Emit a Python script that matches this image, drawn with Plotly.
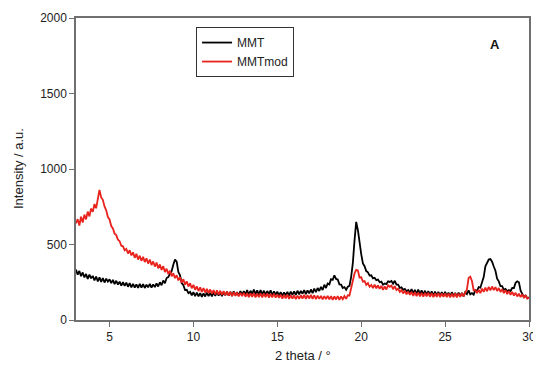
import plotly.graph_objects as go

# 2 theta values (degrees), 0.1 step from 3.0 to 30.0
two_theta = [round(3.0 + 0.1 * i, 1) for i in range(271)]

mmt = [
    335, 300, 325, 290, 315, 282, 305, 272, 300, 276,
    292, 262, 288, 256, 282, 252, 278, 248, 274, 254,
    270, 244, 266, 238, 260, 234, 254, 228, 250, 226,
    248, 220, 244, 216, 240, 214, 236, 212, 240, 214,
    238, 212, 234, 216, 240, 214, 236, 218, 242, 222,
    250, 230, 262, 244, 278, 284, 306, 324, 366, 400,
    386, 318, 296, 244, 230, 198, 200, 178, 186, 164,
    184, 158, 182, 156, 178, 154, 176, 156, 182, 158,
    180, 156, 184, 160, 186, 162, 182, 158, 184, 164,
    188, 162, 186, 160, 190, 164, 184, 162, 192, 166,
    192, 168, 198, 166, 194, 172, 202, 170, 196, 168,
    198, 170, 194, 166, 192, 170, 196, 164, 190, 168,
    188, 162, 184, 160, 182, 164, 186, 162, 188, 166,
    190, 166, 194, 170, 192, 174, 198, 172, 196, 176,
    202, 178, 208, 184, 212, 192, 220, 198, 234, 212,
    242, 236, 270, 266, 296, 272, 268, 236, 234, 212,
    218, 200, 220, 226, 286, 376, 526, 650, 596, 504,
    436, 374, 356, 324, 316, 294, 296, 276, 280, 264,
    268, 250, 254, 234, 242, 238, 256, 252, 258, 240,
    260, 234, 234, 212, 216, 200, 206, 190, 198, 182,
    204, 176, 200, 172, 202, 170, 196, 168, 194, 166,
    192, 164, 190, 160, 188, 162, 186, 158, 184, 160,
    186, 158, 182, 156, 184, 160, 180, 154, 182, 158,
    180, 156, 184, 172, 196, 170, 178, 168, 198, 192,
    218, 214, 248, 284, 356, 374, 400, 404, 386, 354,
    326, 274, 256, 224, 224, 200, 206, 190, 198, 192,
    212, 212, 246, 256, 250, 194, 176, 152, 162, 144,
    150,
]

mmt_mod = [
    640, 668, 626, 684, 646, 698, 666, 718, 686, 738,
    716, 768, 740, 808, 862, 812, 796, 752, 726, 682,
    666, 622, 606, 572, 562, 532, 522, 492, 488, 462,
    470, 440, 462, 428, 448, 412, 438, 400, 426, 392,
    418, 384, 408, 374, 400, 364, 388, 354, 380, 342,
    368, 332, 356, 318, 340, 304, 326, 290, 310, 277,
    296, 262, 283, 247, 270, 234, 256, 222, 244, 210,
    233, 200, 223, 192, 216, 186, 212, 182, 206, 178,
    202, 174, 198, 170, 196, 168, 194, 166, 192, 164,
    188, 162, 186, 158, 184, 160, 182, 156, 180, 158,
    180, 154, 178, 152, 176, 154, 178, 150, 174, 152,
    176, 150, 174, 152, 176, 148, 172, 150, 174, 148,
    170, 146, 168, 142, 166, 144, 168, 140, 164, 142,
    164, 138, 162, 140, 164, 142, 166, 140, 164, 142,
    166, 140, 164, 138, 162, 140, 160, 136, 158, 138,
    160, 136, 158, 134, 156, 136, 158, 134, 156, 138,
    158, 140, 164, 162, 208, 242, 308, 332, 328, 282,
    283, 254, 258, 232, 244, 220, 232, 212, 234, 210,
    230, 206, 226, 200, 222, 202, 230, 220, 228, 204,
    224, 198, 208, 186, 198, 176, 194, 170, 188, 166,
    186, 160, 184, 158, 182, 156, 180, 154, 180, 156,
    180, 154, 178, 152, 176, 154, 178, 152, 176, 154,
    176, 152, 174, 150, 174, 152, 176, 150, 174, 154,
    178, 156, 186, 202, 278, 287, 258, 197, 198, 178,
    200, 178, 208, 186, 214, 190, 220, 196, 222, 198,
    218, 192, 212, 186, 204, 178, 198, 172, 192, 166,
    186, 162, 180, 156, 174, 152, 170, 146, 164, 142,
    148,
]

x_ticks = [5, 10, 15, 20, 25, 30]
y_ticks = [0, 500, 1000, 1500, 2000]

font_family = "Liberation Sans, Arial, sans-serif"
axis_col = "#707070"

fig = go.Figure()
fig.add_trace(go.Scatter(x=two_theta, y=mmt, mode="lines", name="MMT",
                         line=dict(color="#000000", width=1.8)))
fig.add_trace(go.Scatter(x=two_theta, y=mmt_mod, mode="lines", name="MMTmod",
                         line=dict(color="#e8231e", width=1.8)))

fig.update_layout(
    width=533, height=367,
    margin=dict(l=76, r=4, t=18, b=47),
    paper_bgcolor="white", plot_bgcolor="white",
    font=dict(family=font_family, size=12, color="#222222"),
    showlegend=True,
    legend=dict(x=0.265, y=0.97, xanchor="left", yanchor="top",
                bordercolor="#333333", borderwidth=1, bgcolor="white",
                font=dict(size=12), tracegroupgap=0,
                entrywidth=74, entrywidthmode="pixels"),
    annotations=[
        dict(text="<b>A</b>", x=0.925, y=0.913, xref="paper", yref="paper",
             xanchor="center", yanchor="middle",
             showarrow=False, font=dict(size=13, color="#111111")),
        dict(text="2 theta / °", x=0.5, y=-0.116, xref="paper", yref="paper",
             xanchor="center", yanchor="middle", showarrow=False,
             font=dict(size=13, color="#222222")),
        dict(text="Intensity / a.u.", x=-0.128, y=0.5, xref="paper", yref="paper",
             xanchor="center", yanchor="middle", textangle=-90, showarrow=False,
             font=dict(size=13, color="#222222")),
    ],
)
fig.update_xaxes(range=[3, 30], tickvals=x_ticks, ticks="outside", ticklen=5,
                 tickcolor=axis_col, showline=True, linecolor=axis_col, linewidth=1.5,
                 mirror=True, showgrid=False, zeroline=False, automargin=False,
                 ticklabeloverflow="allow")
fig.update_yaxes(range=[0, 2000], tickvals=y_ticks, ticks="outside", ticklen=5,
                 tickcolor=axis_col, showline=True, linecolor=axis_col, linewidth=1.5,
                 mirror=True, showgrid=False, zeroline=False, automargin=False)

fig.write_html("out.html",
               config={"displayModeBar": False},
               post_script="document.body.style.margin='0';"
                           "document.body.style.overflow='hidden';")
